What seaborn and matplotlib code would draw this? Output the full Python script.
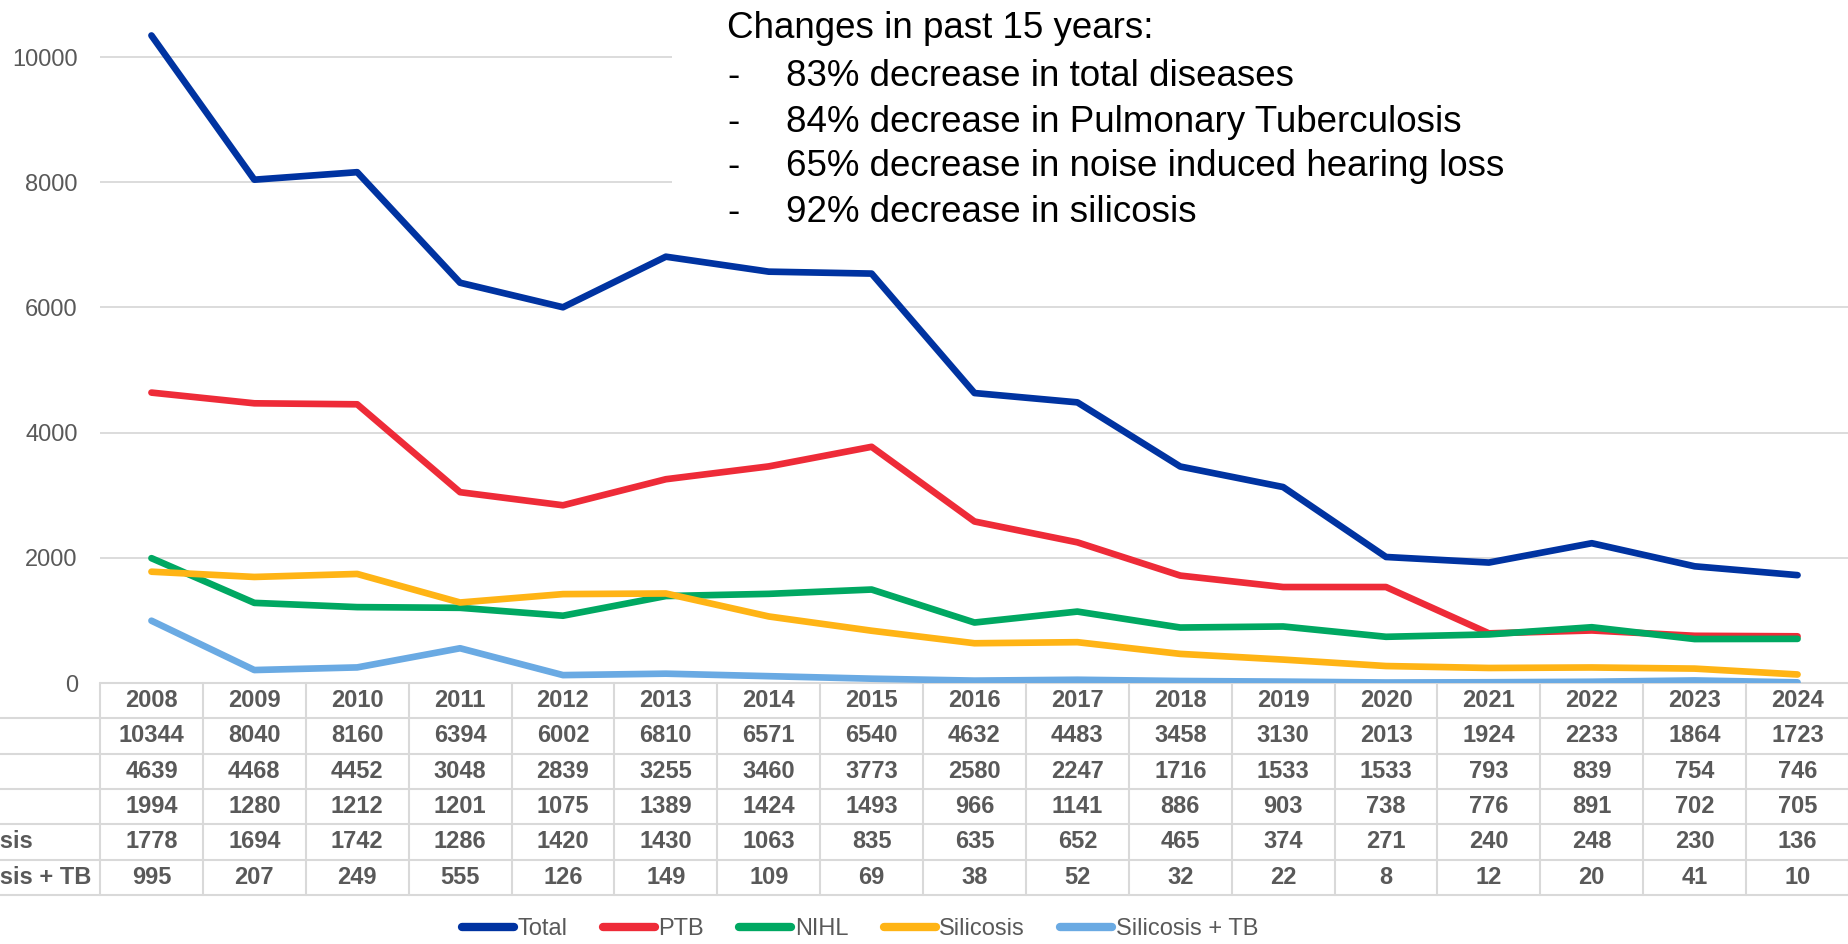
import pandas as pd
import matplotlib.pyplot as plt
import seaborn as sns
from matplotlib import transforms
from matplotlib.lines import Line2D
from matplotlib.patches import Rectangle

years = [2008, 2009, 2010, 2011, 2012, 2013, 2014, 2015, 2016,
         2017, 2018, 2019, 2020, 2021, 2022, 2023, 2024]
total = [10344, 8040, 8160, 6394, 6002, 6810, 6571, 6540, 4632,
         4483, 3458, 3130, 2013, 1924, 2233, 1864, 1723]
ptb = [4639, 4468, 4452, 3048, 2839, 3255, 3460, 3773, 2580,
       2247, 1716, 1533, 1533, 793, 839, 754, 746]
nihl = [1994, 1280, 1212, 1201, 1075, 1389, 1424, 1493, 966,
        1141, 886, 903, 738, 776, 891, 702, 705]
silicosis = [1778, 1694, 1742, 1286, 1420, 1430, 1063, 835, 635,
             652, 465, 374, 271, 240, 248, 230, 136]
silicosis_tb = [995, 207, 249, 555, 126, 149, 109, 69, 38,
                52, 32, 22, 8, 12, 20, 41, 10]

series_names = ['Total', 'PTB', 'NIHL', 'Silicosis', 'Silicosis + TB']
series_values = [total, ptb, nihl, silicosis, silicosis_tb]
colors = ['#0033A1', '#EE2B38', '#00A862', '#FFB415', '#6AAAE3']
y_ticks = [0, 2000, 4000, 6000, 8000, 10000]

note_title = 'Changes in past 15 years:'
note_items = ['83% decrease in total diseases',
              '84% decrease in Pulmonary Tuberculosis',
              '65% decrease in noise induced hearing loss',
              '92% decrease in silicosis']

sns.set_theme(style="white")
plt.rcParams['font.family'] = ['Liberation Sans', 'DejaVu Sans']
GRAY = '#595959'
GRID = '#D9D9D9'

W, H = 1849, 944
fig = plt.figure(figsize=(W / 100, H / 100), dpi=100)
ax = fig.add_axes([100 / W, (H - 683) / H, 1 - 100 / W, 683 / H])

# long format for seaborn
rows = []
for name, vals in zip(series_names, series_values):
    for i, v in enumerate(vals):
        rows.append({'pos': i, 'year': years[i], 'series': name, 'value': v})
df = pd.DataFrame(rows)

sns.lineplot(data=df, x='pos', y='value', hue='series', hue_order=series_names,
             palette=colors, linewidth=4.8, ax=ax, legend=False, sort=False, zorder=3)

ax.set_xlim(-0.5, len(years) - 0.5)
ax.set_ylim(0, 683 / 62.6 * 1000)
ax.set_yticks(y_ticks)
ax.set_yticklabels([str(t) for t in y_ticks])
ax.set_xticks([])
ax.set_xlabel('')
ax.set_ylabel('')
ax.yaxis.grid(True, color=GRID, lw=1.3)
ax.tick_params(axis='y', length=0, pad=16, labelsize=17, labelcolor=GRAY)
for s in ax.spines.values():
    s.set_visible(False)

# white box behind the note text (hides gridlines)
ax.add_patch(Rectangle((705 / W - 100 / W, 1 - 236 / 683), 1, 1,
                       transform=ax.transAxes, facecolor='white',
                       edgecolor='none', zorder=1.5))

# note text
fig.text(727 / W, 1 - 28 / H, note_title, fontsize=26.5, color='black',
         va='center', ha='left')
for k, item in enumerate(note_items):
    y = 1 - (77 + 45 * k) / H
    fig.text(727 / W, y, '-', fontsize=26.5, color='black', va='center', ha='left')
    fig.text(786 / W, y, item, fontsize=26.5, color='black', va='center', ha='left')

# data table under the axis
blend = transforms.blended_transform_factory(ax.transData, fig.transFigure)
row_edges = [683 + 35.3 * r for r in range(7)]
row_edges_f = [1 - e / H for e in row_edges]

# header top border only across the year columns
ax.plot([-0.5, len(years) - 0.5], [row_edges_f[0]] * 2, transform=blend,
        color=GRID, lw=1.5, clip_on=False)
for e in row_edges_f[1:]:
    fig.add_artist(Line2D([0, 1], [e, e], transform=fig.transFigure,
                          color=GRID, lw=1.5))
for i in range(len(years) + 1):
    ax.plot([i - 0.5, i - 0.5], [row_edges_f[0], row_edges_f[-1]],
            transform=blend, color=GRID, lw=1.5, clip_on=False)

mids = [(row_edges_f[r] + row_edges_f[r + 1]) / 2 for r in range(6)]
for i, yr in enumerate(years):
    ax.text(i, mids[0], str(yr), transform=blend, ha='center', va='center',
            fontsize=17, fontweight='bold', color=GRAY)
for r, (name, vals) in enumerate(zip(series_names, series_values)):
    fig.text(-63 / W, mids[r + 1], name, ha='left', va='center',
             fontsize=17, fontweight='bold', color=GRAY)
    for i, v in enumerate(vals):
        ax.text(i, mids[r + 1], str(v), transform=blend, ha='center',
                va='center', fontsize=17, fontweight='bold', color=GRAY)

# legend
handles = [Line2D([], [], color=c, lw=6, solid_capstyle='round') for c in colors]
fig.legend(handles, series_names, loc='center', bbox_to_anchor=(860 / W, 15 / H),
           ncol=5, frameon=False, fontsize=17, handlelength=2.2,
           handletextpad=0.15, columnspacing=1.5, labelcolor=GRAY)

fig.savefig('out.png', dpi=100, facecolor='white')
